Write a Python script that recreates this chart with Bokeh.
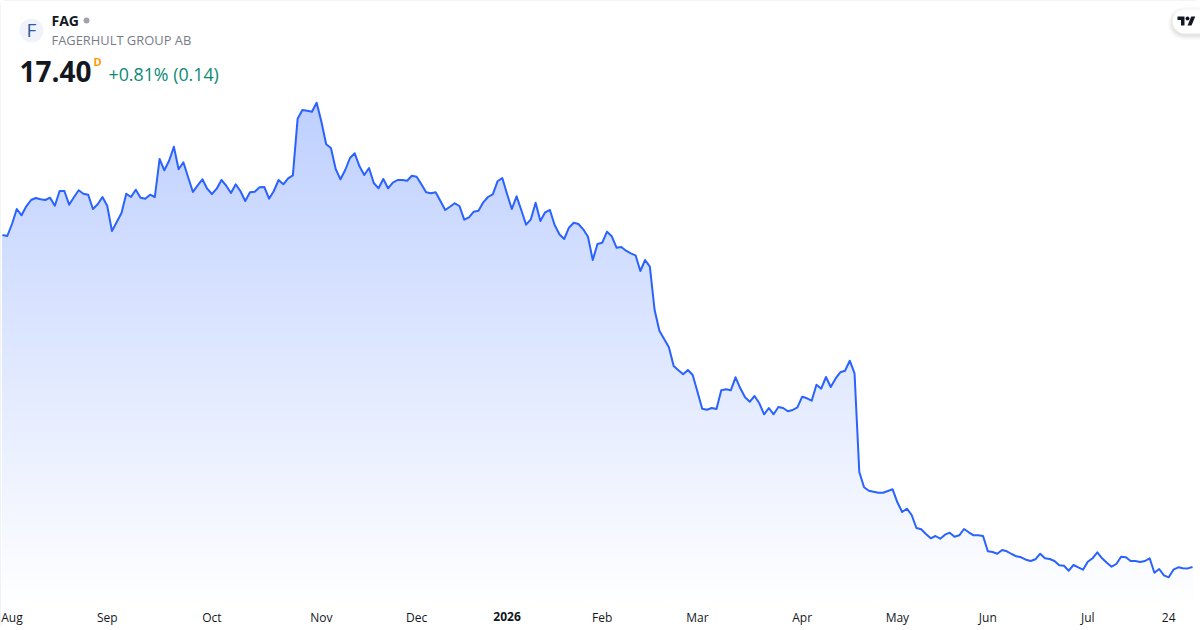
import numpy as np
from bokeh.plotting import figure
from bokeh.models import Range1d, FixedTicker, LinearAxis, Label
from bokeh.embed import file_html
from bokeh.resources import INLINE

ticker = "FAG"
company = "FAGERHULT GROUP AB"
last_price = "17.40"
change_text = "+0.81% (0.14)"

prices_a = [50.60,50.50,51.70,53.20,52.57,53.47,54.10,54.30,54.17,54.10,54.33,53.53,55.00,55.00,53.63,54.37,55.07,54.73,54.63,53.20,53.67,54.40,53.53,51.00,51.90,52.80,54.73,54.40,55.13,54.33,54.23,54.63,54.40,58.20,57.07,58.03,59.43,57.17,57.87,56.37,54.90,55.57,56.17,55.23,54.70,55.23,56.10,55.53,54.80,55.67,54.97,54.00,54.87,54.93,55.37,55.40,54.23,55.00,56.10,55.67,56.27,56.57,62.23,63.10,63.03,62.93,63.83,61.93,59.67,59.30,57.20,56.17,57.10,58.30,58.77,57.47,56.60,57.30,55.80,55.27,56.20,55.27,55.83,56.10]
prices_b = [56.10,56.03,56.53,56.43,55.67,54.87,54.77,54.87,54.00,53.10,53.43,53.77,53.50,52.13,52.37,52.93,53.03,53.87,54.40,54.67,55.97,56.30,54.70,53.20,54.47,53.07,51.63,52.17,53.83,52.00,52.87,53.10,51.60,50.67,50.20,51.33,51.83,51.70,51.17,50.43,48.10,49.70,49.83,50.93,50.47,49.33,49.40,49.03,48.77,48.57,47.00,48.10,47.43,43.10]
prices_c = [41.03,40.20,39.37,37.50,37.07,36.67,37.10,36.60,34.93,33.23,33.13,33.30,33.20,35.07,35.17,35.07,36.37,35.27,34.37,33.93,34.50,33.77,32.67,33.30,32.67,33.40,33.30,32.97,33.10,33.37,34.43,34.27,34.03,35.63,35.23,36.40,35.40,36.23,36.87,37.03,38.03,36.77,26.90,25.37,25.03,24.93,24.83,24.83,25.00,25.17,23.87,22.90,23.23,22.60,21.30,21.17,20.70,20.27,20.50,20.23]
prices_d = [20.63,20.83,20.43,20.57,21.20,20.87,20.57,20.57,20.50,18.97,18.90,18.73,19.10,18.97,18.70,18.47,18.37,18.13,18.00,18.17,18.73,18.27,18.20,18.00,17.57,17.53,17.03,17.60,17.37,17.13,17.93,18.27,18.87,18.27,17.83,17.43,17.70,18.43,18.37,18.00,18.00,17.90,18.00,18.27,16.83,17.20,16.57,16.37,17.13,17.37,17.27,17.26,17.40]
prices = prices_a + prices_b + prices_c + prices_d

tick_index = [2, 22, 44, 67, 87, 126, 146, 168, 188, 207, 228, 245]
tick_text = ["Aug", "Sep", "Oct", "Nov", "Dec", "Feb", "Mar", "Apr", "May", "Jun", "Jul", "24"]
year_index = [106]
year_text = ["2026"]

FONT = "Open Sans"
INK = "#131722"
LINE = "#2962FF"
W, H = 1200, 630
Y0, Y1 = 11.05, 74.05    # price at the canvas bottom and top
BASE = 13.6              # price at the foot of the plot area
AXIS_AT = 14.35          # price level where the time axis hangs
XL, XR = -2/4.76, (W-2)/4.76

p = figure(width=W, height=H, output_backend="svg", toolbar_location=None,
           x_range=Range1d(XL, XR), y_range=Range1d(Y0, Y1),
           x_axis_location=None, y_axis_location=None,
           min_border_left=0, min_border_right=0, min_border_top=0, min_border_bottom=0,
           outline_line_color=None, background_fill_color="white", border_fill_color="white")
p.grid.visible = False
p.styles = {"position": "absolute", "left": "0px", "top": "0px",
            "outline": "1px solid #e0e3eb", "outline-offset": "-1px", "border-radius": "6px"}
p.extra_x_ranges["px"] = Range1d(0, W)
p.extra_y_ranges["px"] = Range1d(H, 0)

x = np.arange(len(prices))
y = np.array(prices)

# vertical gradient, painted from the top level downward, then masked above the price line
top_level = y.max()
levels = np.linspace(top_level, BASE, 160)
lefts = [x[0]] * len(levels)
rights = [x[-1]] * len(levels)
colors = []
for lv in levels:
    a = 0.3 * (lv - BASE) / (top_level - BASE)
    c = [int(round(255 - (255 - v) * a)) for v in (41, 98, 255)]
    colors.append("#%02x%02x%02x" % tuple(c))
p.quad(left=lefts, right=rights, top=levels, bottom=[BASE]*len(levels), fill_color=colors, line_color=None)
cover_x = np.concatenate(([XL], x, [XR]))
cover_y = np.concatenate(([y[0]], y, [y[-1]]))
p.varea(x=cover_x, y1=cover_y, y2=[Y1]*len(cover_x), fill_color="white")
p.line(x, y, line_color=LINE, line_width=2, line_join="round")

def time_axis(ticks, labels, style, standoff):
    ax = LinearAxis(ticker=FixedTicker(ticks=ticks), fixed_location=AXIS_AT,
                    major_label_overrides={i: t for i, t in zip(ticks, labels)},
                    major_tick_line_color=None, minor_tick_line_color=None, axis_line_color=None,
                    major_label_text_font=FONT, major_label_text_font_size="12px",
                    major_label_text_font_style=style,
                    major_label_text_color=INK, major_label_standoff=standoff)
    p.add_layout(ax, "below")

time_axis(tick_index, tick_text, "normal", 5)
time_axis(year_index, year_text, "bold", 8)

def txt(px, py, s, size, color, style="normal", align="left"):
    p.add_layout(Label(x=px, y=py, x_range_name="px", y_range_name="px", text=s,
                       text_font=FONT, text_font_size=f"{size}px", text_color=color,
                       text_font_style=style, text_align=align, text_baseline="middle"))

# header
p.circle(x=[31], y=[30], radius=12, fill_color="#f0f3fa", line_color=None,
         x_range_name="px", y_range_name="px")
txt(31, 29.5, "F", 19, "#2f5aa8", align="center")
txt(51, 20, ticker, 14, INK, "bold")
p.circle(x=[86], y=[20], radius=3, fill_color="#a0a3ab", line_color=None,
         x_range_name="px", y_range_name="px")
txt(51, 39.5, company, 12.9, "#787b86")
txt(19, 70.5, last_price, 28, INK, "bold")
txt(93, 60.5, "D", 11, "#ff9800", "bold")
txt(108, 73.5, change_text, 17.8, "#0b8a73")

# logo tab
def tab(grow):
    r = 12 + grow
    t = np.linspace(np.pi/2, 3*np.pi/2, 24)
    xs = [1184 + r*np.cos(a) for a in t]
    ys = [21 + r*np.sin(a) for a in t]
    return [1200] + xs + [1200], [21 + r] + ys + [21 - r]
for g, al in [(5, .012), (4, .016), (3, .02), (2, .025), (1, .03)]:
    xs, ys = tab(g)
    ys = [v + 2 for v in ys]
    p.patch(xs, ys, fill_color="#000000", fill_alpha=al, line_color=None, x_range_name="px", y_range_name="px")
xs, ys = tab(0)
p.patch(xs, ys, fill_color="white", line_color=None, x_range_name="px", y_range_name="px")
ox, oy, s = 1177, 14, 0.5
p.patch([ox+s*v for v in (14, 7, 7, 0, 0, 14)], [oy+s*v for v in (22, 22, 11, 11, 4, 4)],
        fill_color=INK, line_color=None, x_range_name="px", y_range_name="px")
p.patch([ox+s*v for v in (28, 20, 27.5, 35.5)], [oy+s*v for v in (22, 22, 4, 4)],
        fill_color=INK, line_color=None, x_range_name="px", y_range_name="px")
p.circle(x=[ox+s*20], y=[oy+s*8], radius=2, fill_color=INK, line_color=None,
         x_range_name="px", y_range_name="px")

open("out.html", "w").write(file_html(p, INLINE))
